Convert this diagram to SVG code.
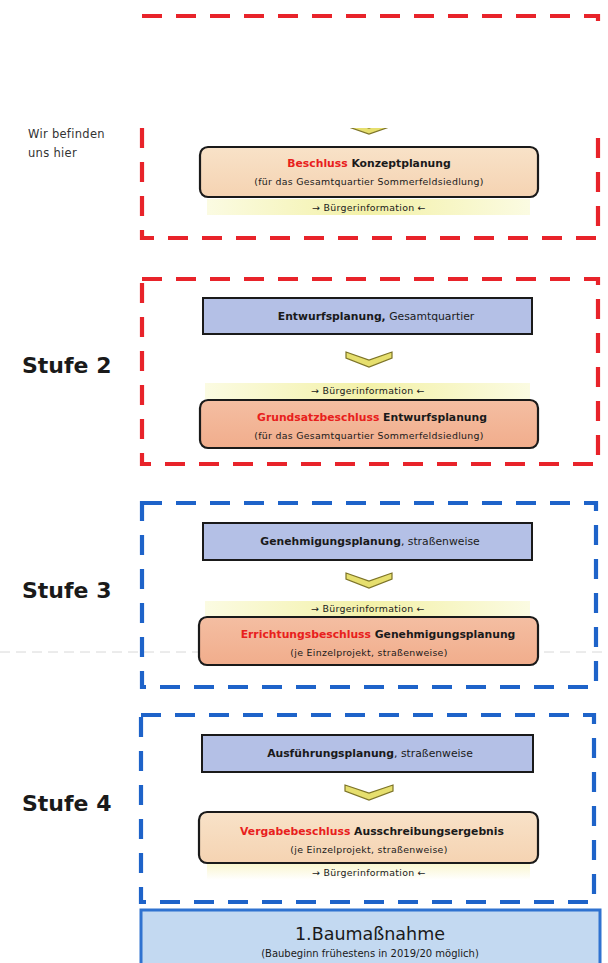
<svg xmlns="http://www.w3.org/2000/svg" width="608" height="963" viewBox="0 0 608 963">
<defs>
<linearGradient id="yel" x1="0" y1="0" x2="1" y2="0">
<stop offset="0" stop-color="#fbfbe2"/><stop offset="0.5" stop-color="#f3f1a8"/><stop offset="1" stop-color="#fbfbe2"/>
</linearGradient>
<linearGradient id="yel2" x1="0" y1="0" x2="0" y2="1">
<stop offset="0" stop-color="#f5f0b0"/><stop offset="1" stop-color="#ffffff"/>
</linearGradient>
<linearGradient id="peach" x1="0" y1="0" x2="0" y2="1">
<stop offset="0" stop-color="#f8e2c8"/><stop offset="1" stop-color="#f5d3b2"/>
</linearGradient>
<linearGradient id="salmon" x1="0" y1="0" x2="0" y2="1">
<stop offset="0" stop-color="#f4bea2"/><stop offset="1" stop-color="#f1ad8c"/>
</linearGradient>
<style>
.red{fill:none;stroke:#e8232a;stroke-width:4.2;stroke-dasharray:20 14}
.blue{fill:none;stroke:#1e63c9;stroke-width:4.2;stroke-dasharray:20 14}
.plan{fill:#b4c0e6;stroke:#1a1a1a;stroke-width:2}
.dec{stroke:#1a1a1a;stroke-width:2.2}
.t{font-family:"DejaVu Sans","Liberation Sans",sans-serif;fill:#1a1a1a;text-anchor:middle}
.b{font-weight:bold}
.r{fill:#e8201c}
.s{font-size:9.4px;letter-spacing:0.3px}
.m{font-size:10.8px}
.stufe{font-family:"DejaVu Sans","Liberation Sans",sans-serif;font-weight:bold;font-size:22px;fill:#1a1a1a}
.chev{fill:#e6df6e;stroke:#7d7428;stroke-width:1.2;stroke-linejoin:miter}
.hint{font-family:"DejaVu Sans","Liberation Sans",sans-serif;font-size:11.5px;letter-spacing:0.3px;fill:#333}
</style>
</defs>
<rect width="608" height="963" fill="#ffffff"/>

<line x1="0" y1="652" x2="608" y2="652" stroke="#c8c8c8" stroke-width="1" stroke-dasharray="10 6" opacity="0.7"/>

<g id="stage1">
<rect class="red" x="142" y="16" width="456" height="222"/>
</g>
<g id="connectors">
<path class="chev" d="M346,120 L369,128 L392,120 L392,126 L369,134 L346,126 Z"/>
<path class="chev" d="M346,352 L369,360 L392,352 L392,358 L369,367 L346,358 Z"/>
<path class="chev" d="M346,573 L369,581 L392,573 L392,579 L369,588 L346,579 Z"/>
<path class="chev" d="M345,785 L369,793 L393,785 L393,791 L369,800 L345,791 Z"/>
</g>
<rect x="0" y="21" width="608" height="107" fill="#ffffff"/>

<g id="hint">
<text class="hint" x="28" y="138">Wir befinden</text>
<text class="hint" x="28" y="157">uns hier</text>
</g>

<g id="beschluss-konzept">
<rect x="200" y="147" width="338" height="50" rx="8" fill="url(#peach)" class="dec"/>
<text class="t m b" x="369" y="167"><tspan class="r">Beschluss</tspan> Konzeptplanung</text>
<text class="t s" x="369" y="185">(für das Gesamtquartier Sommerfeldsiedlung)</text>
</g>
<g id="info1">
<rect x="207" y="199" width="323" height="16" fill="url(#yel)"/>
<text class="t s" x="369" y="211">→ Bürgerinformation ←</text>
</g>

<g id="stufe2-label"><text class="stufe" x="22" y="373">Stufe 2</text></g>
<g id="stage2">
<rect class="red" x="142" y="279" width="456" height="185"/>
</g>
<g id="entwurf">
<rect class="plan" x="203" y="298" width="329" height="36"/>
<text class="t m" x="376" y="320"><tspan class="b">Entwurfsplanung,</tspan> Gesamtquartier</text>
</g>
<g id="info2">
<rect x="205" y="383" width="325" height="16" fill="url(#yel)"/>
<text class="t s" x="368" y="394">→ Bürgerinformation ←</text>
</g>
<g id="grundsatz">
<rect x="200" y="400" width="338" height="48" rx="8" fill="url(#salmon)" class="dec"/>
<text class="t m b" x="372" y="421"><tspan class="r">Grundsatzbeschluss</tspan> Entwurfsplanung</text>
<text class="t s" x="369" y="439">(für das Gesamtquartier Sommerfeldsiedlung)</text>
</g>

<g id="stufe3-label"><text class="stufe" x="22" y="598">Stufe 3</text></g>
<g id="stage3">
<rect class="blue" x="142" y="503" width="454" height="184"/>
</g>
<g id="genehmigung">
<rect class="plan" x="203" y="523" width="329" height="37"/>
<text class="t m" x="370" y="545"><tspan class="b">Genehmigungsplanung</tspan>, straßenweise</text>
</g>
<g id="info3">
<rect x="205" y="601" width="325" height="15" fill="url(#yel)"/>
<text class="t s" x="368" y="612">→ Bürgerinformation ←</text>
</g>
<g id="errichtung">
<rect x="199" y="617" width="339" height="48" rx="8" fill="url(#salmon)" class="dec"/>
<text class="t m b" x="378" y="638"><tspan class="r">Errichtungsbeschluss</tspan> Genehmigungsplanung</text>
<text class="t s" x="369" y="656">(je Einzelprojekt, straßenweise)</text>
</g>

<g id="stufe4-label"><text class="stufe" x="22" y="811">Stufe 4</text></g>
<g id="stage4">
<rect class="blue" x="141" y="715" width="453" height="187"/>
</g>
<g id="ausfuehrung">
<rect class="plan" x="202" y="735" width="331" height="37"/>
<text class="t m" x="370" y="757"><tspan class="b">Ausführungsplanung</tspan>, straßenweise</text>
</g>
<g id="vergabe">
<rect x="199" y="812" width="339" height="51" rx="8" fill="url(#peach)" class="dec"/>
<text class="t m b" x="372" y="835"><tspan class="r">Vergabebeschluss</tspan> Ausschreibungsergebnis</text>
<text class="t s" x="369" y="853">(je Einzelprojekt, straßenweise)</text>
</g>
<g id="info4">
<rect x="207" y="864" width="323" height="16" fill="url(#yel2)" opacity="0.6"/>
<text class="t s" x="369" y="876">→ Bürgerinformation ←</text>
</g>

<g id="baumassnahme">
<rect x="141" y="910" width="459" height="60" fill="#c3d9f1" stroke="#2f72d0" stroke-width="3"/>
<text class="t" x="370" y="940" style="font-size:17.5px">1.Baumaßnahme</text>
<text class="t" x="370" y="957" style="font-size:10px">(Baubeginn frühestens in 2019/20 möglich)</text>
</g>
</svg>
